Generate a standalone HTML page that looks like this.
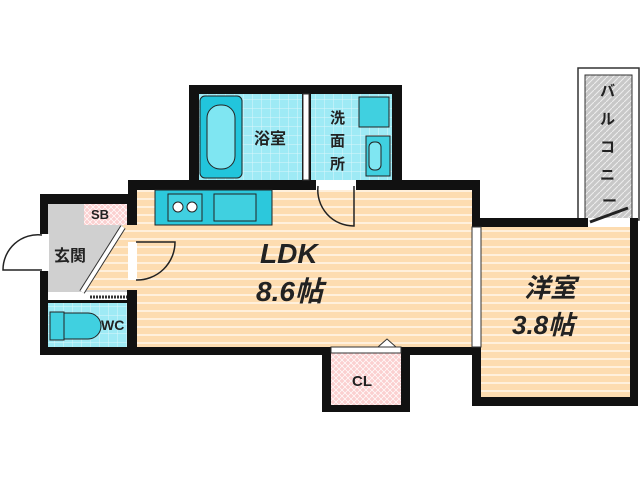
<!DOCTYPE html>
<html><head><style>body{margin:0;background:#fff}svg{display:block}text{font-family:"Liberation Sans","Noto Sans CJK JP",sans-serif;font-weight:bold;fill:#222}</style></head><body>
<svg width="640" height="480" viewBox="0 0 640 480" xmlns="http://www.w3.org/2000/svg">
<defs>
<pattern id="fl" width="8" height="8" patternUnits="userSpaceOnUse"><rect width="8" height="8" fill="#fddcb0"/><rect y="6" width="8" height="2" fill="#fff0dc"/></pattern>
<pattern id="tile" width="9" height="9" patternUnits="userSpaceOnUse"><rect width="9" height="9" fill="#9eeaf5"/><path d="M0 0H9M0 0V9" stroke="#d9f7fb" stroke-width="1"/></pattern>
<pattern id="pk" width="6" height="6" patternUnits="userSpaceOnUse"><rect width="6" height="6" fill="#fbd0d0"/><path d="M0 0L6 6M6 0L0 6" stroke="#fff" stroke-width="0.7"/></pattern>
<pattern id="gr" width="6" height="6" patternUnits="userSpaceOnUse"><rect width="6" height="6" fill="#c8c8c8"/><path d="M0 6L6 0" stroke="#eee" stroke-width="1"/></pattern>
</defs>
<rect x="578" y="68" width="61" height="152" fill="#fff" stroke="#333" stroke-width="1.5"/>
<rect x="585" y="75" width="47" height="145" fill="url(#gr)" stroke="#333"/>
<text x="600" y="96" font-size="15">バ</text><text x="600" y="124" font-size="15">ル</text><text x="600" y="152" font-size="15">コ</text><text x="600" y="180" font-size="15">ニ</text><text x="602" y="206" font-size="15">ー</text>
<rect x="189" y="85" width="213" height="105" fill="#111"/>
<rect x="128" y="180" width="352" height="175" fill="#111"/>
<rect x="40" y="194" width="97" height="161" fill="#111"/>
<rect x="472" y="218" width="166" height="188" fill="#111"/>
<rect x="322" y="347" width="88" height="65" fill="#111"/>
<rect x="137" y="190" width="335" height="157" fill="url(#fl)"/>
<rect x="481" y="227" width="149" height="170" fill="url(#fl)"/>
<rect x="331" y="350" width="70" height="55" fill="url(#pk)"/>
<rect x="331" y="347" width="70" height="6" fill="#fff" stroke="#333"/>
<path d="M378 347l9-8 9 8z" fill="#fff" stroke="#333"/>
<text x="352" y="386" font-size="15">CL</text>
<rect x="199" y="94" width="103" height="86" fill="url(#tile)"/>
<rect x="311" y="94" width="81" height="86" fill="url(#tile)"/>
<rect x="48" y="204" width="79" height="88" fill="#d0d0d0"/>
<rect x="84" y="204" width="43" height="21" fill="url(#pk)"/>
<rect x="48" y="303" width="79" height="44" fill="url(#tile)"/>
<rect x="48" y="292" width="79" height="8" fill="#fff"/>
<path d="M90 297H127" stroke="#333" stroke-dasharray="2 1" stroke-width="3"/>
<path d="M137 290L82 290L123 225H137Z" fill="url(#fl)"/>
<path d="M82 292L123 227" stroke="#333" stroke-width="6"/><path d="M82 292L123 227" stroke="#fff" stroke-width="4"/>
<rect x="200" y="96" width="42" height="82" rx="5" fill="#22c5dc" stroke="#222"/>
<rect x="207" y="105" width="28" height="64" rx="13" fill="#7fe6f2" stroke="#222"/>
<rect x="359" y="97" width="30" height="30" fill="#40d0e0" stroke="#222"/>
<rect x="366" y="136" width="24" height="40" fill="#40d0e0" stroke="#222"/>
<rect x="369" y="142" width="12" height="28" rx="5" fill="#7fe6f2" stroke="#222"/>
<rect x="303" y="94" width="6" height="86" fill="#fff" stroke="#333"/>
<text x="254" y="144" font-size="16">浴室</text>
<text x="330" y="123" font-size="15">洗</text><text x="330" y="146" font-size="15">面</text><text x="330" y="169" font-size="15">所</text>
<rect x="155" y="190" width="117" height="35" fill="#2cc8dc" stroke="#222"/>
<rect x="168" y="194" width="34" height="27" fill="#40d0e0" stroke="#222"/>
<circle cx="178" cy="207" r="5" fill="#fff" stroke="#222"/><circle cx="192" cy="207" r="5" fill="#fff" stroke="#222"/>
<rect x="214" y="194" width="42" height="27" fill="#40d0e0" stroke="#222"/>
<rect x="50" y="312" width="14" height="28" fill="#40d0e0" stroke="#222"/>
<path d="M64 313H88a12 12 0 0 1 0 26H64z" fill="#40d0e0" stroke="#222"/>
<text x="101" y="330" font-size="14">WC</text>
<text x="91" y="219" font-size="13">SB</text>
<text x="54" y="261" font-size="16">玄関</text>
<rect x="40" y="234" width="9" height="37" fill="#fff"/>
<path d="M42 235A35 35 0 0 0 3 270H42" fill="none" stroke="#222" stroke-width="1.5"/>
<rect x="128" y="242" width="9" height="38" fill="#fff"/>
<path d="M136 242H175A38 38 0 0 1 136 280" fill="none" stroke="#222" stroke-width="1.5"/>
<rect x="316" y="180" width="40" height="10" fill="#fff"/>
<path d="M318 186A36 36 0 0 0 354 226V186" fill="none" stroke="#222" stroke-width="1.5"/>
<rect x="472" y="227" width="9" height="120" fill="#fff" stroke="#333"/>
<rect x="588" y="218" width="42" height="9" fill="#fff"/>
<path d="M590 222L628 208" stroke="#222" stroke-width="3"/>
<text x="260" y="263" font-size="28" font-style="italic">LDK</text>
<text x="256" y="301" font-size="28" font-style="italic">8.6帖</text>
<text x="524" y="297" font-size="26" font-style="italic">洋室</text>
<text x="512" y="334" font-size="26" font-style="italic">3.8帖</text>
</svg>
</body></html>
